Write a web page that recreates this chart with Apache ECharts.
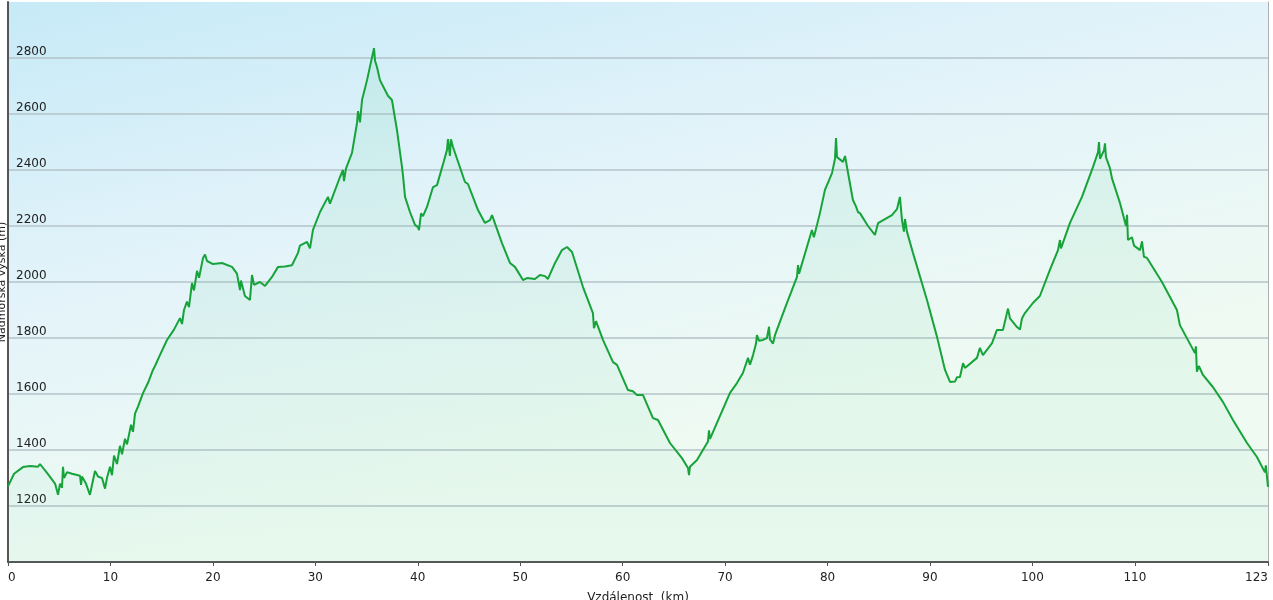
<!DOCTYPE html>
<html>
<head>
<meta charset="utf-8">
<script src="https://cdn.jsdelivr.net/npm/echarts@6/dist/echarts.min.js"></script>
<style>html,body{margin:0;padding:0;background:#fff;}#c{width:1273px;height:600px;}</style>
</head>
<body>
<div id="c"></div>
<script>
// distance (km)
const dist = [0.00,0.59,1.46,2.15,2.93,3.12,3.81,4.59,4.78,4.88,5.08,5.27,5.37,5.47,5.76,6.25,7.03,7.13,7.22,7.61,8.00,8.20,8.49,8.79,9.18,9.47,9.66,9.96,
10.15,10.35,10.64,10.93,11.13,11.42,11.62,12.01,12.20,12.40,12.69,13.18,13.67,14.15,14.35,14.84,15.52,16.20,16.79,16.99,17.18,17.47,17.67,17.96,18.16,18.45,18.65,19.04,19.23,19.43,20.01,
20.89,21.87,22.35,22.65,22.74,23.13,23.62,23.82,24.01,24.60,25.09,25.77,26.36,27.04,27.72,28.31,28.50,29.19,29.48,29.77,30.46,31.24,31.43,32.41,32.70,32.80,32.99,33.58,34.07,34.17,34.36,34.56,35.05,35.34,35.73,35.83,36.02,36.31,37.09,37.48,37.97,38.46,38.56,38.76,39.24,39.73,40.02,40.12,40.32,40.51,40.90,41.49,41.88,42.46,42.85,42.95,43.14,43.24,43.44,44.61,44.90,45.88,46.56,47.05,47.25,48.22,49.00,49.49,50.27,50.66,51.44,51.93,52.42,52.71,53.40,54.08,54.57,55.06,56.13,57.10,57.20,57.40,58.08,59.06,59.45,60.52,61.01,61.40,61.99,62.96,63.45,64.62,65.79,66.38,66.48,66.57,67.26,68.33,68.43,68.53,70.48,71.16,71.74,72.24,72.43,72.73,73.02,73.11,73.31,73.70,74.09,74.29,74.38,74.68,74.87,75.85,77.02,77.12,77.22,78.48,78.67,79.26,79.75,80.44,80.73,80.83,80.93,81.51,81.71,82.48,82.78,82.97,83.17,83.95,84.63,84.93,85.12,86.29,86.78,87.07,87.27,87.46,87.56,87.76,88.34,89.71,90.69,91.47,91.96,92.45,92.64,92.93,93.23,93.42,94.59,94.88,95.17,96.06,96.54,97.13,97.62,97.81,98.50,98.79,98.98,99.27,100.05,100.73,101.71,102.50,102.69,102.79,103.67,104.84,105.92,106.41,106.50,106.60,106.99,107.09,107.18,107.57,107.77,108.55,109.14,109.24,109.33,109.72,109.92,110.51,110.70,110.89,111.19,112.65,114.11,114.40,115.87,115.96,116.06,116.25,116.65,117.62,118.61,119.58,120.95,121.92,122.70,122.79,123.00];
// elevation (m)
const elev = [1270,1315,1339,1343,1340,1350,1318,1280,1255,1240,1280,1265,1340,1300,1321,1315,1308,1275,1305,1280,1240,1275,1325,1305,1300,1262,1300,1340,
1310,1380,1350,1415,1385,1440,1420,1490,1465,1530,1555,1603,1640,1686,1700,1740,1793,1830,1871,1850,1900,1930,1910,1996,1970,2040,2015,2086,2098,2075,2064,
2068,2054,2030,1971,2005,1950,1936,2025,1990,2000,1986,2018,2054,2055,2060,2104,2130,2143,2120,2186,2250,2304,2280,2375,2400,2360,2405,2461,2568,2610,2570,2650,2721,2770,2835,2790,2768,2721,2665,2650,2543,2411,2380,2304,2250,2204,2196,2185,2245,2235,2268,2339,2346,2420,2471,2510,2450,2510,2482,2357,2350,2257,2211,2221,2239,2139,2068,2054,2007,2014,2011,2025,2021,2011,2068,2114,2125,2107,1982,1889,1835,1860,1793,1714,1704,1614,1610,1596,1596,1514,1507,1425,1371,1336,1310,1340,1364,1430,1470,1440,1604,1639,1675,1729,1705,1739,1780,1810,1790,1793,1800,1840,1795,1780,1810,1907,2018,2060,2030,2186,2160,2246,2329,2389,2440,2514,2446,2429,2450,2293,2270,2250,2246,2200,2168,2210,2204,2239,2260,2304,2221,2180,2225,2179,2104,1936,1804,1686,1643,1645,1660,1661,1710,1693,1729,1765,1739,1782,1829,1829,1905,1870,1839,1830,1870,1889,1925,1950,2043,2114,2150,2120,2211,2304,2411,2464,2500,2440,2470,2495,2446,2407,2370,2282,2200,2240,2150,2160,2130,2114,2145,2090,2086,2000,1900,1846,1746,1770,1680,1700,1668,1625,1571,1507,1425,1375,1320,1345,1268];
const xTicks = [0,10,20,30,40,50,60,70,80,90,100,110,123];
const yTicks = [1200,1400,1600,1800,2000,2200,2400,2600,2800];

const data = dist.map((d, i) => [d, elev[i]]);
const chart = echarts.init(document.getElementById('c'), null, {renderer: 'canvas'});
const font = 'DejaVu Sans, Verdana, sans-serif';
chart.setOption({
  animation: false,
  backgroundColor: '#ffffff',
  grid: {
    left: 8, right: 5, top: 2, bottom: 38,
    containLabel: false, outerBoundsMode: 'none',
    show: true, borderWidth: 0,
    backgroundColor: {
      type: 'linear', x: 0, y: 0, x2: 0.1, y2: 1,
      colorStops: [
        {offset: 0, color: '#c6eaf7'},
        {offset: 0.5, color: '#e3f3fa'},
        {offset: 1, color: '#eefaf2'}
      ]
    }
  },
  xAxis: {
    type: 'value', min: 0, max: 123,
    name: 'Vzdálenost  (km)', nameLocation: 'middle', nameGap: 30,
    nameTextStyle: {fontFamily: font, fontSize: 12, color: '#222'},
    axisLine: {show: true, lineStyle: {color: '#555', width: 2}},
    axisTick: {show: true, length: 4, inside: false, customValues: xTicks, lineStyle: {color: '#555', width: 1}},
    axisLabel: {customValues: xTicks, fontFamily: font, fontSize: 12, color: '#222', margin: 10,
      alignMinLabel: 'left', alignMaxLabel: 'right', showMinLabel: true, showMaxLabel: true,
      formatter: v => String(v)},
    splitLine: {show: false}
  },
  yAxis: [{
    type: 'value', min: 1000, max: 3000,
    name: 'Nadmořská výška (m)', nameLocation: 'middle', nameGap: 0, nameMoveOverlap: false,
    nameTextStyle: {fontFamily: font, fontSize: 11, color: '#222'},
    axisLine: {show: true, lineStyle: {color: '#555', width: 2}},
    axisTick: {show: false, customValues: yTicks},
    axisLabel: {customValues: yTicks, inside: true, margin: 8, fontFamily: font, fontSize: 12, color: '#222',
      verticalAlign: 'bottom', padding: [0, 0, 0, 0], formatter: v => String(v)},
    splitLine: {show: true, lineStyle: {color: '#b5c3c8', width: 1.5}}
  }, {
    type: 'value', min: 1000, max: 3000, position: 'right',
    axisLine: {show: true, lineStyle: {color: '#b0b0b0', width: 1}},
    axisTick: {show: false}, axisLabel: {show: false}, splitLine: {show: false}
  }],
  series: [{
    type: 'line', data: data, showSymbol: false, smooth: false,
    lineStyle: {color: '#16a339', width: 2},
    areaStyle: {
      origin: 'start',
      color: {type: 'linear', x: 0, y: 0, x2: 0, y2: 1, colorStops: [
        {offset: 0, color: 'rgba(70,200,130,0.16)'},
        {offset: 1, color: 'rgba(70,200,130,0.06)'}
      ]}
    }
  }]
});
</script>
</body>
</html>
